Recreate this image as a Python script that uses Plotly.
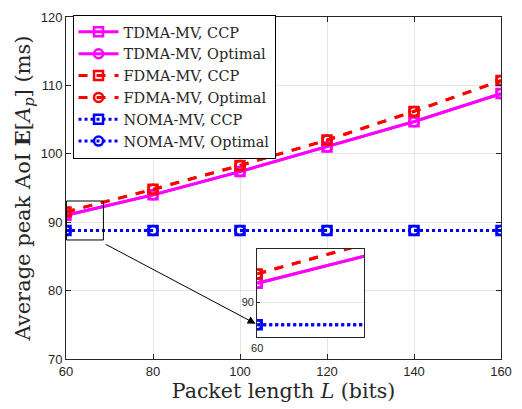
import plotly.graph_objects as go

L = [60, 80, 100, 120, 140, 160]
tdma_ccp = [91.0, 94.0, 97.4, 101.0, 104.7, 108.8]
tdma_opt = [91.0, 94.0, 97.4, 101.0, 104.7, 108.8]
fdma_ccp = [91.5, 94.8, 98.3, 102.0, 106.2, 110.7]
fdma_opt = [91.5, 94.8, 98.3, 102.0, 106.2, 110.7]
noma_ccp = [88.8, 88.8, 88.8, 88.8, 88.8, 88.8]
noma_opt = [88.8, 88.8, 88.8, 88.8, 88.8, 88.8]

series = [
    ("TDMA-MV, CCP", tdma_ccp, "#FF00FF", "solid", "square-open"),
    ("TDMA-MV, Optimal", tdma_opt, "#FF00FF", "solid", "circle-open"),
    ("FDMA-MV, CCP", fdma_ccp, "#FF0000", "dash", "square-open"),
    ("FDMA-MV, Optimal", fdma_opt, "#FF0000", "dash", "circle-open"),
    ("NOMA-MV, CCP", noma_ccp, "#0000FF", "dot", "square-open"),
    ("NOMA-MV, Optimal", noma_opt, "#0000FF", "dot", "circle-open"),
]

fig = go.Figure()
for name, y, c, d, m in series:
    fig.add_trace(go.Scatter(x=L, y=y, name=name, mode="lines+markers",
                             line=dict(color=c, width=3, dash=d),
                             marker=dict(symbol=m, size=9, color=c, line=dict(width=2.5, color=c)),
                             xaxis="x", yaxis="y"))
for name, y, c, d, m in series:
    fig.add_trace(go.Scatter(x=L, y=y, name=name, mode="lines+markers", showlegend=False,
                             line=dict(color=c, width=3, dash=d),
                             marker=dict(symbol=m, size=9, color=c, line=dict(width=2.5, color=c)),
                             xaxis="x2", yaxis="y2", cliponaxis=True))

serif = "DejaVu Serif, Liberation Serif, serif"
tickfont = dict(family="Liberation Sans, Arial", size=13, color="#262626")
fig.update_layout(
    width=522, height=409,
    margin=dict(l=66, r=10, t=10, b=50),
    plot_bgcolor="white", paper_bgcolor="white",
    showlegend=True,
    legend=dict(x=0.015, y=1.006, xanchor="left", yanchor="top",
                bgcolor="white", bordercolor="black", borderwidth=1,
                font=dict(family=serif, size=14.5, color="#262626"),
                tracegroupgap=0, itemwidth=40),
    xaxis=dict(range=[60, 160], tickvals=[60, 80, 100, 120, 140, 160], showgrid=True,
               gridcolor="#E5E5E5", ticks="inside", ticklen=5, tickcolor="#262626",
               showline=True, linecolor="#262626", linewidth=1, mirror="ticks",
               tickfont=tickfont, zeroline=False,
               title=dict(text="Packet length <i>L</i> (bits)", standoff=5,
                          font=dict(family=serif, size=20.5, color="#262626"))),
    yaxis=dict(range=[70, 120], tickvals=[70, 80, 90, 100, 110, 120], showgrid=True,
               gridcolor="#E5E5E5", ticks="inside", ticklen=5, tickcolor="#262626",
               showline=True, linecolor="#262626", linewidth=1, mirror="ticks",
               tickfont=tickfont, zeroline=False,
               title=dict(text="Average peak AoI <b>E</b>[<i>A</i><sub><i>p</i></sub>] (ms)", standoff=4,
                          font=dict(family=serif, size=21, color="#262626"))),
    xaxis2=dict(domain=[0.4395, 0.686], anchor="y2", range=[60, 69.6], tickvals=[60],
                showgrid=False, ticks="inside", ticklen=3, tickcolor="#262626",
                showline=True, linecolor="#262626", linewidth=1, mirror=True,
                tickfont=dict(family="Liberation Sans, Arial", size=11, color="#262626"), zeroline=False),
    yaxis2=dict(domain=[0.063, 0.322], anchor="x2", range=[88.12, 92.83], tickvals=[90],
                showgrid=True, gridcolor="#E5E5E5", ticks="inside", ticklen=3, tickcolor="#262626",
                showline=True, linecolor="#262626", linewidth=1, mirror=True,
                tickfont=dict(family="Liberation Sans, Arial", size=11, color="#262626"), zeroline=False),
)

# zoom rectangle on the main axes
fig.add_shape(type="rect", xref="x", yref="y", x0=60.1, x1=68.6, y0=87.4, y1=93.1,
              line=dict(color="black", width=1))

# arrow to inset
fig.add_annotation(xref="x domain", yref="y domain", axref="x domain", ayref="y domain",
                   x=0.436, y=0.103, ax=0.0874, ay=0.338, text="",
                   showarrow=True, arrowhead=2, arrowsize=1.6, arrowwidth=1, arrowcolor="black")

fig.write_html("out.html")
